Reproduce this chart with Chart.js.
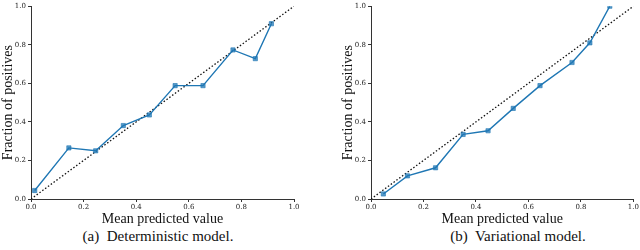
<!DOCTYPE html>
<html>
<head>
<meta charset="utf-8">
<script src="https://cdn.jsdelivr.net/npm/chart.js@4/dist/chart.umd.min.js"></script>
<style>
  body { margin: 0; background: #fff; }
  #wrap { position: relative; width: 640px; height: 250px; }
  canvas { position: absolute; top: 0; }
  .cap { position: absolute; top: 228px; font-family: "Liberation Serif", serif; font-size: 15px; line-height: 17px; color: #111; white-space: nowrap; transform: translateX(-50%); }
</style>
</head>
<body>
<div id="wrap">
  <canvas id="left" width="320" height="228" style="left:0"></canvas>
  <canvas id="right" width="320" height="228" style="left:320px"></canvas>
  <div class="cap" style="left:158px">(a)&nbsp; Deterministic model.</div>
  <div class="cap" style="left:518px">(b)&nbsp; Variational model.</div>
</div>
<script>
// calibration curves
const detX = [0.014, 0.144, 0.246, 0.351, 0.450, 0.548, 0.654, 0.768, 0.853, 0.914];
const detY = [0.044, 0.265, 0.250, 0.381, 0.436, 0.588, 0.588, 0.773, 0.728, 0.909];
const varX = [0.047, 0.139, 0.246, 0.351, 0.446, 0.542, 0.644, 0.766, 0.834, 0.910];
const varY = [0.026, 0.120, 0.162, 0.335, 0.354, 0.470, 0.588, 0.708, 0.810, 1.000];
const diagX = [0, 1];
const diagY = [0, 1];
const tickVals = [0, 0.2, 0.4, 0.6, 0.8, 1.0];

function pts(xs, ys) {
    return xs.map((x, i) => ({ x: x, y: ys[i] }));
}

function makeChart(id, xs, ys, padLeft, padRight, yWidth) {
    const axisColor = '#333';
    const tickFont = { family: 'DejaVu Serif', size: 7 };
    const titleFont = { family: 'Liberation Serif', size: 14 };
    new Chart(id, {
        type: 'scatter',
        data: {
            datasets: [{
                data: pts(diagX, diagY),
                showLine: true,
                borderColor: '#111',
                borderWidth: 1.3,
                borderDash: [1.5, 2],
                pointRadius: 0,
                order: 2
            }, {
                data: pts(xs, ys),
                showLine: true,
                borderColor: '#1f77b4',
                borderWidth: 1.4,
                pointStyle: 'rect',
                pointRadius: 3,
                backgroundColor: 'rgba(31,119,180,0.75)',
                pointBorderColor: 'rgba(31,119,180,0.6)',
                pointBorderWidth: 1,
                order: 1
            }]
        },
        options: {
            responsive: false,
            animation: false,
            events: [],
            layout: { padding: { top: 4, left: padLeft, right: padRight, bottom: 0 } },
            plugins: { legend: { display: false }, tooltip: { enabled: false } },
            scales: {
                x: {
                    type: 'linear', min: 0, max: 1,
                    afterBuildTicks: (s) => { s.ticks = tickVals.map(v => ({ value: v })); },
                    afterFit: (s) => { s.height = 29; },
                    ticks: { font: tickFont, color: '#222', padding: 1, maxRotation: 0,
                             callback: (v) => v.toFixed(1) },
                    grid: { drawOnChartArea: false, tickLength: 3, color: axisColor },
                    border: { display: true, color: axisColor, width: 1 },
                    title: { display: true, text: 'Mean predicted value', font: titleFont, color: '#111', padding: { top: 3, bottom: 0 } }
                },
                y: {
                    type: 'linear', min: 0, max: 1,
                    afterBuildTicks: (s) => { s.ticks = tickVals.map(v => ({ value: v })); },
                    afterFit: (s) => { s.width = yWidth; },
                    ticks: { font: tickFont, color: '#222', padding: 2,
                             callback: (v) => v.toFixed(1) },
                    grid: { drawOnChartArea: false, tickLength: 3, color: axisColor },
                    border: { display: true, color: axisColor, width: 1 },
                    title: { display: true, text: 'Fraction of positives', font: titleFont, color: '#111', padding: { top: 0, bottom: 0 } }
                }
            }
        }
    });
}

makeChart('left', detX, detY, 0, 26, 31);
makeChart('right', varX, varY, 20, 6, 31);
</script>
</body>
</html>
